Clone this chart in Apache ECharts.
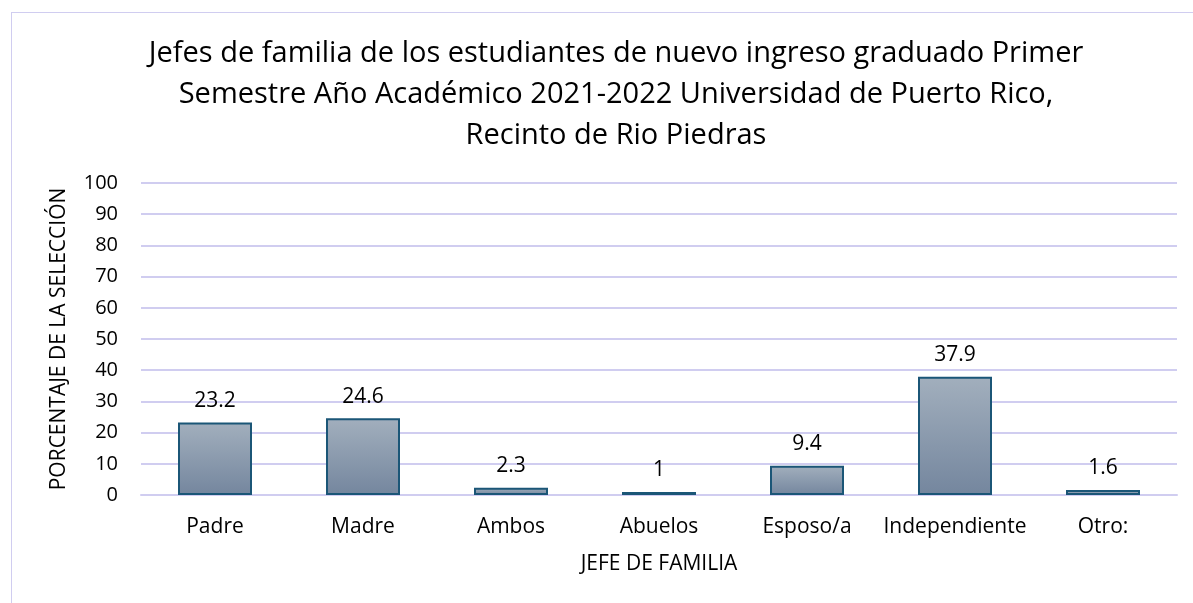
<!DOCTYPE html>
<html>
<head>
<meta charset="utf-8">
<script src="https://cdn.jsdelivr.net/npm/echarts@6/dist/echarts.min.js"></script>
<style>
html,body{margin:0;padding:0;background:#fff;}
#frame{position:absolute;left:11px;top:12px;width:1300px;height:700px;border-left:1px solid #d0cdf0;border-top:1px solid #d0cdf0;}
#c{position:absolute;left:0;top:0;width:1193px;height:603px;}
</style>
</head>
<body>
<div id="frame"></div>
<div id="c"></div>
<script>
const titleText = 'Jefes de familia de los estudiantes de nuevo ingreso graduado Primer\nSemestre Año Académico 2021-2022 Universidad de Puerto Rico,\nRecinto de Rio Piedras';
const categories = ['Padre', 'Madre', 'Ambos', 'Abuelos', 'Esposo/a', 'Independiente', 'Otro:'];
const values = [23.2, 24.6, 2.3, 1, 9.4, 37.9, 1.6];
const xAxisName = 'JEFE DE FAMILIA';
const yAxisName = 'PORCENTAJE DE LA SELECCIÓN';

const font = 'Open Sans, Liberation Sans, sans-serif';
const chart = echarts.init(document.getElementById('c'), null, {renderer: 'canvas'});
chart.setOption({
  backgroundColor: 'transparent',
  animation: false,
  title: {
    text: titleText,
    left: 611,
    textAlign: 'center',
    top: 28,
    textStyle: {fontFamily: font, fontSize: 29, fontWeight: 'normal', color: '#000', lineHeight: 41}
  },
  grid: {left: 141, right: 16, top: 183, bottom: 108, containLabel: false},
  xAxis: {
    type: 'category',
    data: categories,
    name: xAxisName,
    nameLocation: 'middle',
    nameGap: 59,
    nameTextStyle: {fontFamily: font, fontSize: 21, color: '#000'},
    axisLine: {lineStyle: {color: '#d0cdf0', width: 2}},
    axisTick: {show: false},
    axisLabel: {fontFamily: font, fontSize: 21, color: '#000', margin: 22, interval: 0}
  },
  yAxis: {
    type: 'value',
    min: 0, max: 100, interval: 10,
    name: yAxisName,
    nameLocation: 'middle',
    nameGap: 71,
    nameTextStyle: {fontFamily: font, fontSize: 21, color: '#000'},
    axisLine: {show: false},
    axisTick: {show: false},
    axisLabel: {fontFamily: font, fontSize: 20, color: '#000', margin: 23},
    splitLine: {lineStyle: {color: '#d0cdf0', width: 2}}
  },
  series: [{
    type: 'bar',
    data: values,
    barWidth: '50%',
    itemStyle: {
      color: new echarts.graphic.LinearGradient(0, 0, 0, 1, [
        {offset: 0, color: '#a2afbd'},
        {offset: 1, color: '#74869e'}
      ]),
      borderColor: '#1b5677',
      borderWidth: 2
    },
    label: {show: true, position: 'top', distance: 11, fontFamily: font, fontSize: 21, color: '#000'}
  }]
});
</script>
</body>
</html>
